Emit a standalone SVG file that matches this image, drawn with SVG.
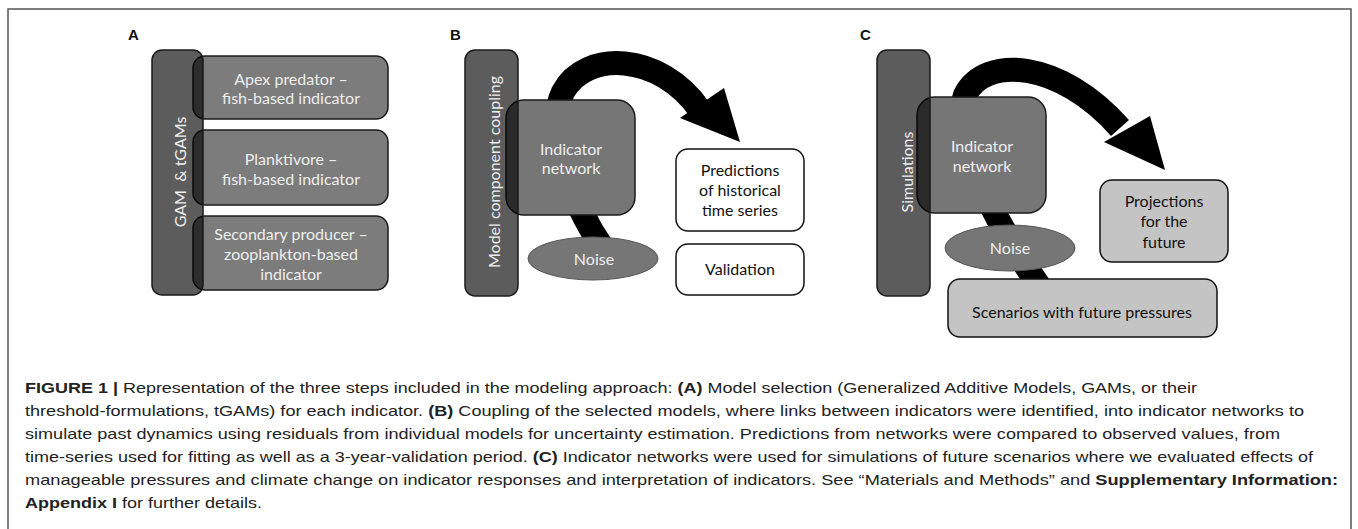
<svg xmlns="http://www.w3.org/2000/svg" width="1358" height="529" viewBox="0 0 1358 529">
<style>
.lbl{font-family:"Liberation Sans",Arial,sans-serif;font-weight:bold;font-size:15px;fill:#111}
.t{font-family:Lato,"Open Sans",sans-serif;font-size:16px;fill:#eeeeee;text-anchor:middle}
.tb{font-family:Lato,"Open Sans",sans-serif;font-size:16px;fill:#111;text-anchor:middle}
.bar{fill:#000;fill-opacity:0.64;stroke:#1a1a1a;stroke-width:1.5}
.box{fill:#7c7c7c;stroke:#1a1a1a;stroke-width:1.5}
.net{fill:#767676;stroke:#1a1a1a;stroke-width:1.5}
.noise{fill:#767676;stroke:#555;stroke-width:1}
.wbox{fill:#fff;stroke:#111;stroke-width:1.5}
.gbox{fill:#c4c4c4;stroke:#111;stroke-width:1.5}
.band{fill:none;stroke:#000;stroke-width:24}
.cap{font-family:"Liberation Sans",Arial,sans-serif;font-size:15px;fill:#222}
.cap .b{font-weight:bold}
</style>
<rect x="8" y="9" width="1343" height="530" fill="none" stroke="#555" stroke-width="1.5"/>

<g id="connectors">
  <path class="band" d="M 604 250 C 570 200, 545 130, 563 92 C 585 50, 660 52, 700 110"/>
  <polygon points="680,118 724,88 740,142" fill="#000"/>
  <path class="band" d="M 1042 290 C 1000 230, 950 140, 965 95 C 985 55, 1060 60, 1120 128"/>
  <polygon points="1104,142 1150,116 1165,170" fill="#000"/>
</g>

<text class="lbl" x="128" y="40">A</text>
<text class="lbl" x="450" y="40">B</text>
<text class="lbl" x="860" y="40">C</text>

<g id="a-apex">
  <rect class="box" x="193" y="56" width="195" height="63" rx="12"/>
  <text class="t" x="291" y="85">Apex predator –</text>
  <text class="t" x="291" y="104">fish-based indicator</text>
</g>
<g id="a-plank">
  <rect class="box" x="193" y="130" width="195" height="75" rx="12"/>
  <text class="t" x="291" y="165">Planktivore –</text>
  <text class="t" x="291" y="185">fish-based indicator</text>
</g>
<g id="a-second">
  <rect class="box" x="193" y="216" width="195" height="74" rx="12"/>
  <text class="t" x="291" y="240">Secondary producer –</text>
  <text class="t" x="291" y="260">zooplankton-based</text>
  <text class="t" x="291" y="280">indicator</text>
</g>
<g id="a-gam">
  <rect class="bar" x="152" y="50" width="51" height="245" rx="10"/>
  <text class="t" transform="translate(186 172) rotate(-90)">GAM&#160; &amp; tGAMs</text>
</g>

<g id="b-net">
  <rect class="net" x="506" y="100" width="129" height="115" rx="18"/>
  <text class="t" x="571" y="155">Indicator</text>
  <text class="t" x="571" y="174">network</text>
</g>
<g id="b-coupling">
  <rect class="bar" x="465" y="50" width="53" height="246" rx="10"/>
  <text class="t" transform="translate(500 172) rotate(-90)">Model component coupling</text>
</g>
<g id="b-noise">
  <ellipse class="noise" cx="593" cy="258.5" rx="65" ry="21.5"/>
  <text class="t" x="594" y="265">Noise</text>
</g>
<g id="b-pred">
  <rect class="wbox" x="676" y="149" width="128" height="82" rx="12"/>
  <text class="tb" x="740" y="176">Predictions</text>
  <text class="tb" x="740" y="196">of historical</text>
  <text class="tb" x="740" y="216">time series</text>
</g>
<g id="b-valid">
  <rect class="wbox" x="676" y="244" width="128" height="51" rx="12"/>
  <text class="tb" x="740" y="275">Validation</text>
</g>

<g id="c-net">
  <rect class="net" x="917" y="97" width="129" height="116" rx="18"/>
  <text class="t" x="982" y="152">Indicator</text>
  <text class="t" x="982" y="172">network</text>
</g>
<g id="c-sim">
  <rect class="bar" x="877" y="50" width="53" height="246" rx="10"/>
  <text class="t" transform="translate(913 172) rotate(-90)">Simulations</text>
</g>
<g id="c-noise">
  <ellipse class="noise" cx="1010" cy="248" rx="65" ry="23"/>
  <text class="t" x="1010" y="254">Noise</text>
</g>
<g id="c-proj">
  <rect class="gbox" x="1100" y="180" width="128" height="82" rx="12"/>
  <text class="tb" x="1164" y="207">Projections</text>
  <text class="tb" x="1164" y="227">for the</text>
  <text class="tb" x="1164" y="248">future</text>
</g>
<g id="c-scen">
  <rect class="gbox" x="948" y="279" width="269" height="58" rx="12"/>
  <text class="tb" x="1082" y="318">Scenarios with future pressures</text>
</g>

<g id="caption" class="cap">
  <text x="25" y="393" textLength="1172" lengthAdjust="spacingAndGlyphs"><tspan class="b">FIGURE 1 |</tspan> Representation of the three steps included in the modeling approach: <tspan class="b">(A)</tspan> Model selection (Generalized Additive Models, GAMs, or their</text>
  <text x="25" y="416" textLength="1279" lengthAdjust="spacingAndGlyphs">threshold-formulations, tGAMs) for each indicator. <tspan class="b">(B)</tspan> Coupling of the selected models, where links between indicators were identified, into indicator networks to</text>
  <text x="25" y="439" textLength="1255" lengthAdjust="spacingAndGlyphs">simulate past dynamics using residuals from individual models for uncertainty estimation. Predictions from networks were compared to observed values, from</text>
  <text x="25" y="462" textLength="1288" lengthAdjust="spacingAndGlyphs">time-series used for fitting as well as a 3-year-validation period. <tspan class="b">(C)</tspan> Indicator networks were used for simulations of future scenarios where we evaluated effects of</text>
  <text x="25" y="485" textLength="1313" lengthAdjust="spacingAndGlyphs">manageable pressures and climate change on indicator responses and interpretation of indicators. See “Materials and Methods” and <tspan class="b">Supplementary Information:</tspan></text>
  <text x="25" y="508" textLength="237" lengthAdjust="spacingAndGlyphs"><tspan class="b">Appendix I</tspan> for further details.</text>
</g>
</svg>
